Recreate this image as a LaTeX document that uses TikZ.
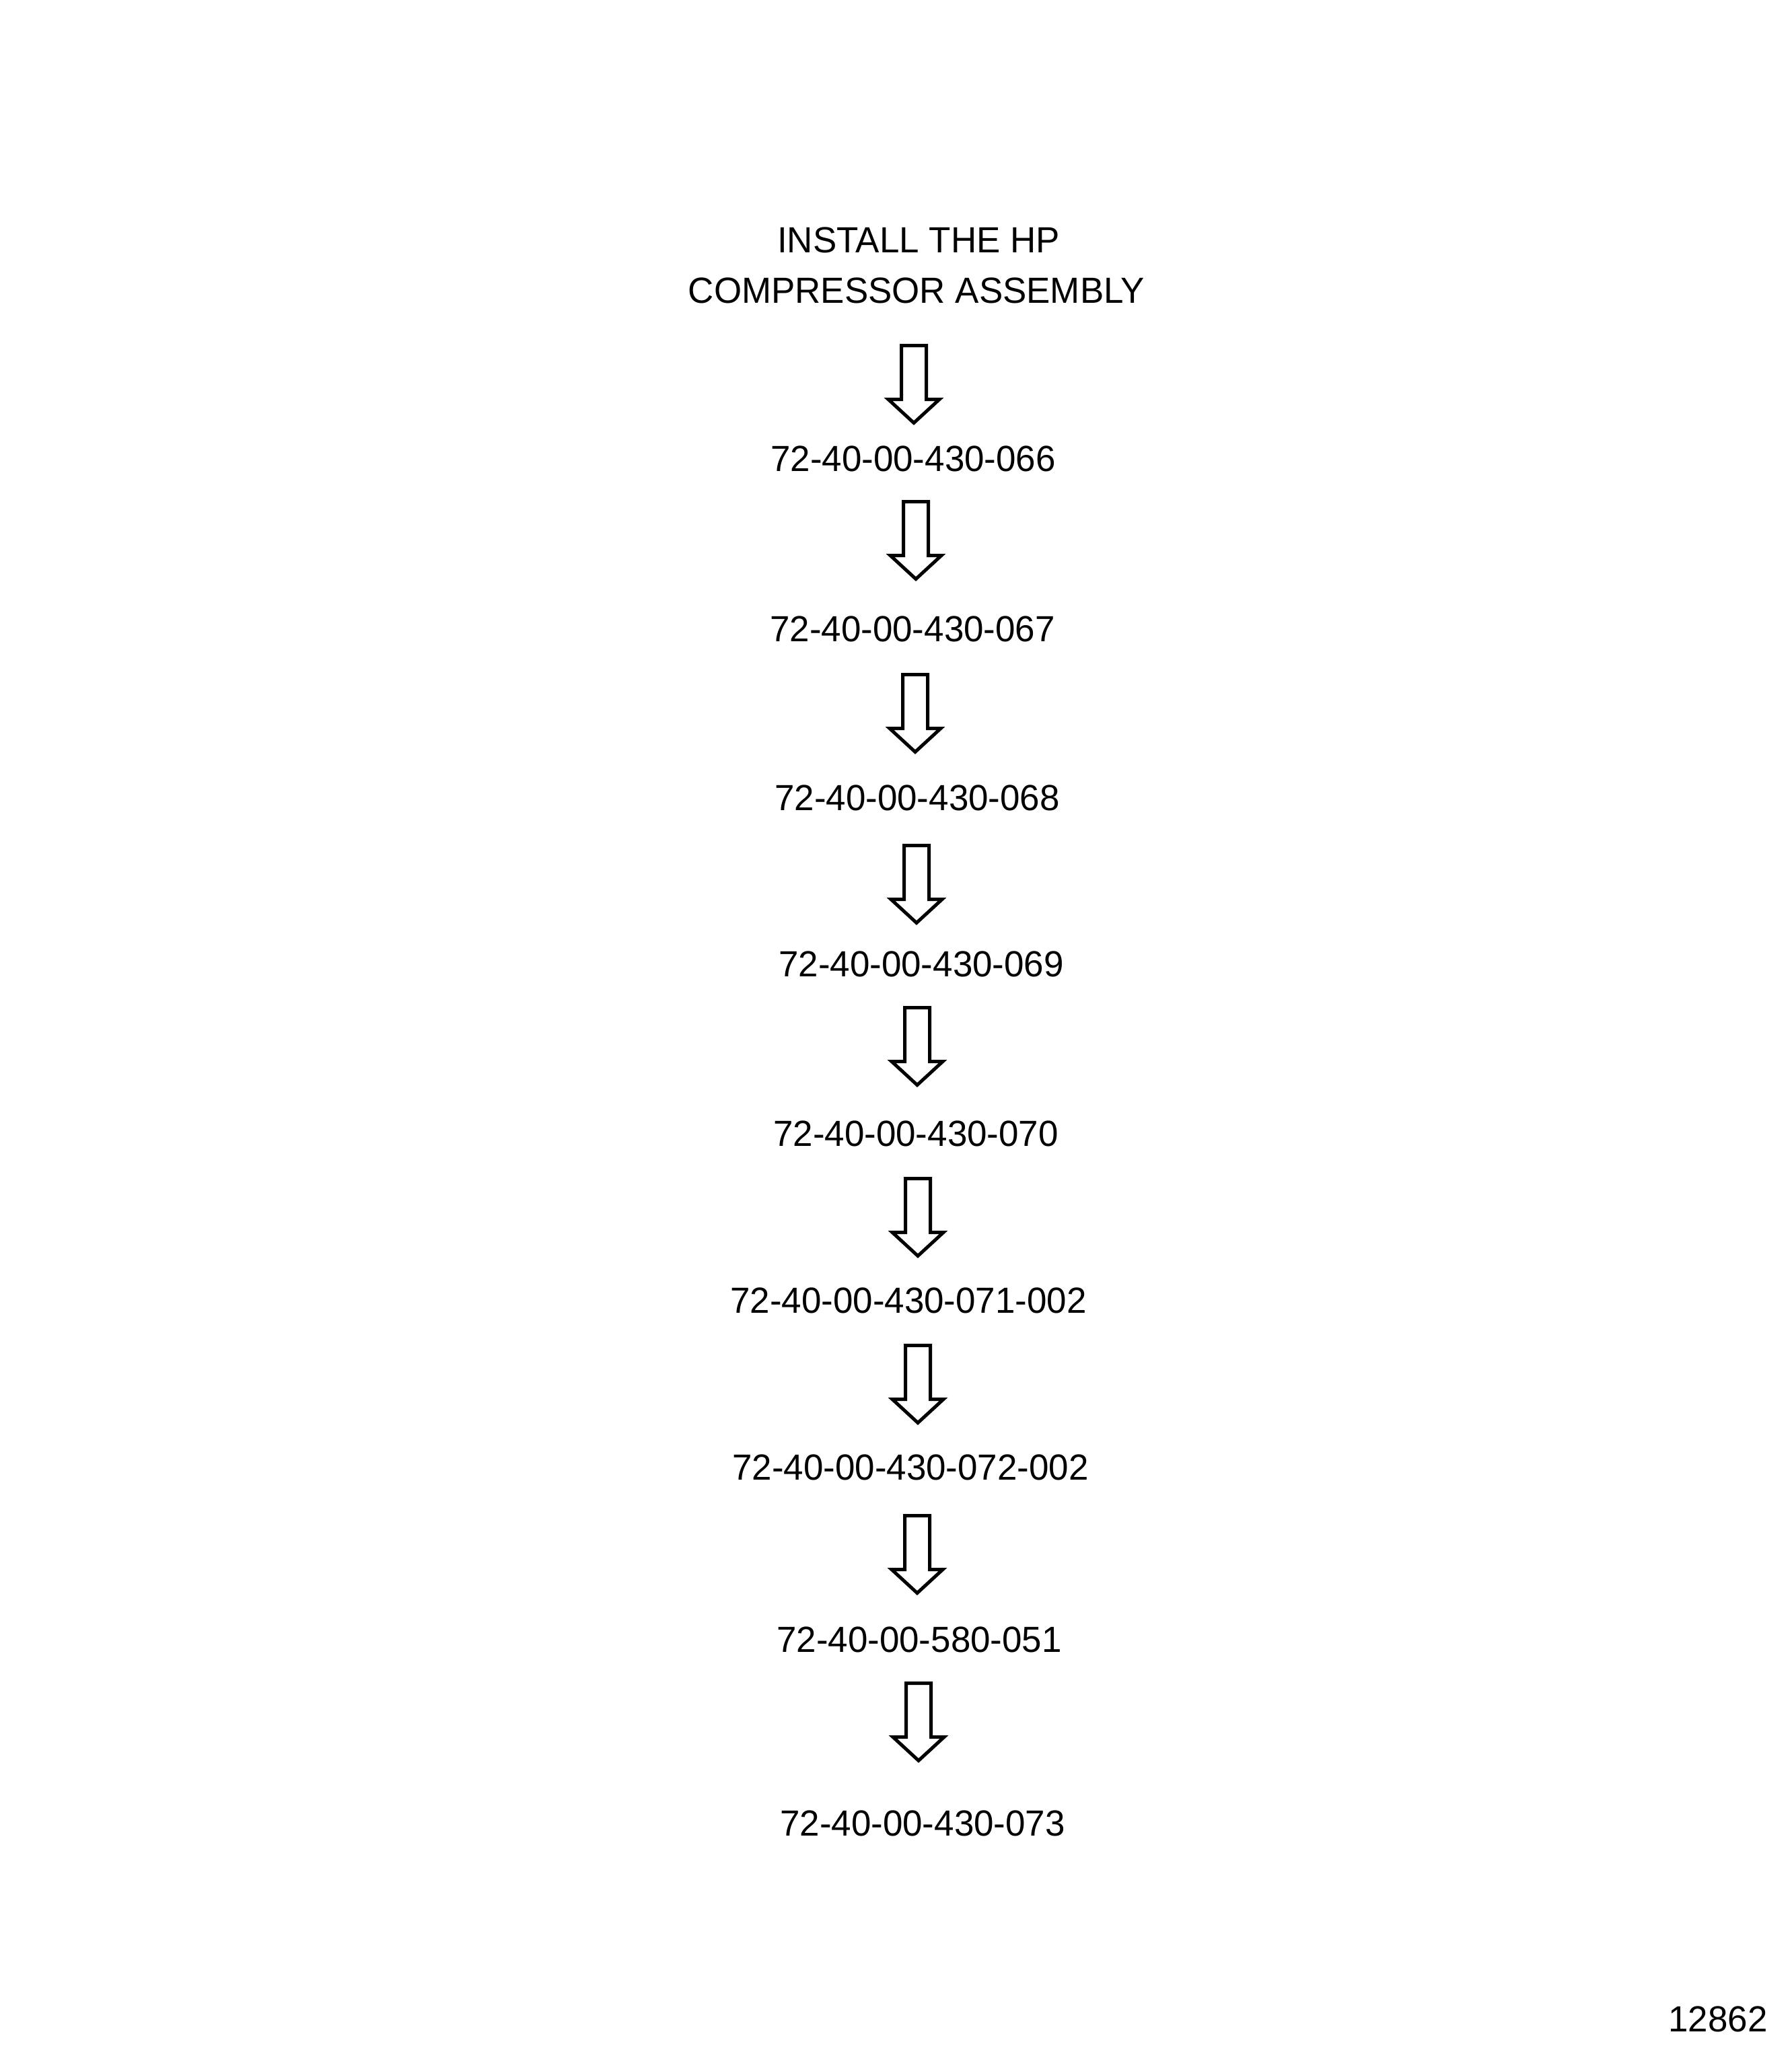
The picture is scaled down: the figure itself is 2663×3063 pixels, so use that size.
\documentclass[tikz,border=0pt]{standalone}
\usepackage{fontspec}
\setmainfont[FakeStretch=0.98]{Liberation Sans}
\begin{document}
\begin{tikzpicture}[x=0.25pt,y=-0.25pt,
  lbl/.style={anchor=base,inner sep=0pt,font=\fontsize{13.5pt}{16pt}\selectfont},
  arrowline/.style={draw=black,line width=1.25pt,line join=miter,fill=white},
  blockarrow/.pic={\draw[arrowline] (-18.5,2.5) -- (18.5,2.5) -- (18.5,82.5) -- (38,82.5) -- (0,117.5) -- (-38,82.5) -- (-18.5,82.5) -- cycle;}]
\fill[white] (0,0) rectangle (2663,3063);
\useasboundingbox (0,0) rectangle (2663,3063);
% texts
\node[lbl] (t0a) at (1365,375) {INSTALL THE HP};
\node[lbl] (t0b) at (1362,450) {COMPRESSOR ASSEMBLY};
\node[lbl] (t1) at (1357,700) {72-40-00-430-066};
\node[lbl] (t2) at (1356,953) {72-40-00-430-067};
\node[lbl] (t3) at (1363,1204) {72-40-00-430-068};
\node[lbl] (t4) at (1369,1451) {72-40-00-430-069};
\node[lbl] (t5) at (1361,1703) {72-40-00-430-070};
\node[lbl] (t6) at (1350,1951) {72-40-00-430-071-002};
\node[lbl] (t7) at (1353,2199) {72-40-00-430-072-002};
\node[lbl] (t8) at (1366,2455) {72-40-00-580-051};
\node[lbl] (t9) at (1371,2728) {72-40-00-430-073};
\node[lbl] (fig) at (2553,3019) {12862};
% arrows
\coordinate (a1) at (1358,511);
\coordinate (a2) at (1361,743);
\coordinate (a3) at (1360,1000);
\coordinate (a4) at (1362,1254);
\coordinate (a5) at (1363,1495);
\coordinate (a6) at (1364,1749);
\coordinate (a7) at (1364,1997);
\coordinate (a8) at (1363,2250);
\coordinate (a9) at (1365,2499);
\foreach \a in {a1,a2,a3,a4,a5,a6,a7,a8,a9} {\pic at (\a) {blockarrow};}
\end{tikzpicture}
\end{document}
